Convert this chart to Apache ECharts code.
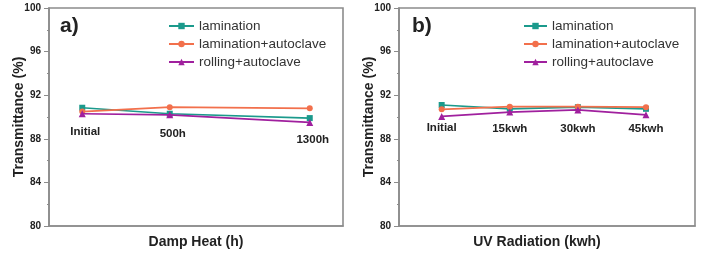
<!DOCTYPE html>
<html>
<head>
<meta charset="utf-8">
<script src="https://cdn.jsdelivr.net/npm/echarts@6/dist/echarts.min.js"></script>
<style>
html,body{margin:0;padding:0;background:#fff;}
#c{width:702px;height:254px;}
</style>
</head>
<body>
<div id="c"></div>
<script>
// ---- Data ----
const seriesNames = ['lamination', 'lamination+autoclave', 'rolling+autoclave'];

// Panel a: Damp Heat (h)
const dampHours = [0, 500, 1300];
const dampTags = ['Initial', '500h', '1300h'];
const dampTagLevel = [88.6, 88.5, 87.9];
const dampLamination = [90.85, 90.3, 89.9];
const dampLamAutoclave = [90.5, 90.9, 90.8];
const dampRollAutoclave = [90.3, 90.2, 89.5];

// Panel b: UV Radiation (kwh)
const uvDose = [0, 15, 30, 45];
const uvTags = ['Initial', '15kwh', '30kwh', '45kwh'];
const uvTagLevel = [89.0, 88.88, 88.88, 88.88];
const uvLamination = [91.1, 90.75, 90.9, 90.75];
const uvLamAutoclave = [90.7, 90.95, 90.95, 90.9];
const uvRollAutoclave = [90.05, 90.45, 90.65, 90.2];

const yTicks = [80, 84, 88, 92, 96, 100];

// ---- Styles ----
const colors = ['#1b9a8c', '#f2704c', '#a0209e'];
const symbols = ['rect', 'circle', 'triangle'];
const symSizes = [6, 6, 7];
const FONT = 'Liberation Sans, Arial, sans-serif';
const frameColor = '#8c8c8c';

function pairs(xs, ys) { return xs.map((x, i) => [x, ys[i]]); }

function makeSeries(idx, xs, sets) {
  return sets.map((ys, k) => ({
    type: 'line',
    name: seriesNames[k],
    xAxisIndex: idx, yAxisIndex: idx,
    data: pairs(xs, ys),
    symbol: symbols[k],
    symbolSize: symSizes[k],
    color: colors[k],
    lineStyle: { width: 1.7, color: colors[k] },
    itemStyle: { color: colors[k] },
    z: 3 + k,
    animation: false
  }));
}

function tagSeries(idx, xs, levels, tags, shift) {
  return {
    type: 'scatter',
    xAxisIndex: idx, yAxisIndex: idx,
    symbolSize: 0,
    silent: true,
    itemStyle: { opacity: 1 },
    data: xs.map((x, i) => ({ value: [x, levels[i]], name: tags[i] })),
    label: {
      show: true, position: 'inside', formatter: p => p.name, offset: [shift, 0],
      fontFamily: FONT, fontWeight: 'bold', fontSize: 11.5, color: '#222', opacity: 1
    },
    animation: false
  };
}

function yAxis(idx) {
  return {
    type: 'value', gridIndex: idx, min: 80, max: 100, interval: 4,
    name: 'Transmittance (%)', nameLocation: 'middle', nameGap: 23, nameMoveOverlap: false,
    nameTextStyle: { fontFamily: FONT, fontWeight: 'bold', fontSize: 14, color: '#222' },
    axisLine: { show: true, onZero: false, lineStyle: { color: frameColor, width: 1.6 } },
    axisTick: { show: true, length: 5, lineStyle: { color: frameColor } },
    minorTick: { show: true, splitNumber: 2, length: 2, lineStyle: { color: frameColor } },
    splitLine: { show: false },
    axisLabel: {
      fontFamily: FONT, fontWeight: 'bold', fontSize: 10, color: '#222', margin: 8,
      formatter: v => (yTicks.indexOf(v) >= 0 ? String(v) : '')
    }
  };
}

function xAxis(idx, min, max, name, pad) {
  return {
    type: 'value', gridIndex: idx, min: min, max: max,
    name: name, nameLocation: 'middle', nameGap: 9, nameMoveOverlap: false,
    nameTextStyle: { fontFamily: FONT, fontWeight: 'bold', fontSize: 14, color: '#222', padding: pad },
    axisLine: { show: true, onZero: false, lineStyle: { color: frameColor, width: 1.6 } },
    axisTick: { show: false },
    axisLabel: { show: false },
    splitLine: { show: false }
  };
}

const chart = echarts.init(document.getElementById('c'), null, { renderer: 'canvas' });
chart.setOption({
  backgroundColor: '#fff',
  animation: false,
  title: [
    { text: 'a)', left: 60, top: 16, padding: 0, textStyle: { fontFamily: FONT, fontWeight: 'bold', fontSize: 21, color: '#222' } },
    { text: 'b)', left: 412, top: 16, padding: 0, textStyle: { fontFamily: FONT, fontWeight: 'bold', fontSize: 21, color: '#222' } }
  ],
  legend: [
    {
      data: seriesNames, orient: 'vertical', left: 168, top: 19, padding: 0,
      itemWidth: 25, itemHeight: 8, itemGap: 4,
      textStyle: { fontFamily: FONT, fontSize: 13.5, color: '#333' }
    },
    {
      data: seriesNames, orient: 'vertical', left: 523, top: 19, padding: 0,
      itemWidth: 23, itemHeight: 8, itemGap: 4,
      textStyle: { fontFamily: FONT, fontSize: 13.5, color: '#333' }
    }
  ],
  grid: [
    { left: 49, right: 359, top: 8, bottom: 23, show: true, borderColor: frameColor, borderWidth: 1.6, backgroundColor: 'transparent' },
    { left: 399, right: 7, top: 8, bottom: 23, show: true, borderColor: frameColor, borderWidth: 1.6, backgroundColor: 'transparent' }
  ],
  xAxis: [
    xAxis(0, -190, 1490, 'Damp Heat (h)', [0, 0, 0, 0]),
    xAxis(1, -9.4, 55.8, 'UV Radiation (kwh)', [0, 20, 0, 0])
  ],
  yAxis: [yAxis(0), yAxis(1)],
  series: [
    ...makeSeries(0, dampHours, [dampLamination, dampLamAutoclave, dampRollAutoclave]),
    tagSeries(0, dampHours, dampTagLevel, dampTags, 3),
    ...makeSeries(1, uvDose, [uvLamination, uvLamAutoclave, uvRollAutoclave]),
    tagSeries(1, uvDose, uvTagLevel, uvTags, 0)
  ]
});
</script>
</body>
</html>
